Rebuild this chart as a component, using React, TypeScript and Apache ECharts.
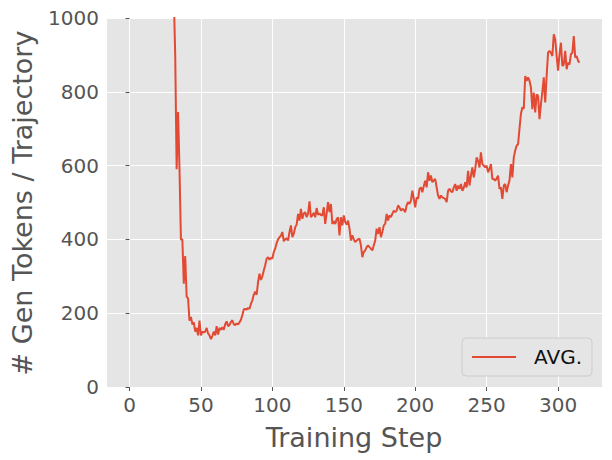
import React, { useEffect, useRef } from "react";
import * as echarts from "echarts";

// Training steps 0..315 and the average generated tokens per trajectory
const earlyValues = [
  2450, 2380, 2320, 2260, 2190, 2130, 2070, 2010, 1960, 1900,
  1850, 1800, 1750, 1700, 1660, 1610, 1570, 1530, 1490, 1450,
  1410, 1380, 1340, 1310, 1280, 1250, 1220, 1190, 1160, 1130,
  1100, 1060,
];
const laterValues = [
  // 32..
  900, 590, 745, 590, 400, 400, 280, 355, 245, 240,
  180, 190, 170, 175, 150, 160, 140, 180, 140, 150,
  148, 150, 160, 145, 140, 130, 138, 150, 140, 165,
  142, 160, 155, 162, 155, 170, 178, 165, 168, 176,
  181, 170, 168, 172, 170, 175, 182, 195, 210, 212,
  210, 214, 212, 225, 235, 250, 258, 250, 285, 307,
  290, 300, 316, 330, 348, 352, 345, 350, 348, 366,
  375, 390, 400, 406, 410, 420, 395, 400, 403, 397,
  420, 438, 406, 415, 433, 440, 469, 451, 483, 456,
  470, 474, 460, 470, 503, 460, 465, 472, 460, 485,
  467, 470, 466, 465, 487, 442, 470, 501, 474, 496,
  442, 449, 442, 455, 460, 411, 460, 438, 465, 447,
  440, 451, 429, 397, 411, 400, 393, 397, 400, 402,
  384, 352, 366, 370, 379, 384, 379, 375, 370, 384,
  397, 429, 415, 433, 406, 420, 438, 442, 469, 451,
  465, 460, 470, 478, 474, 478, 492, 487, 478, 483,
  480, 474, 492, 501, 496, 505, 532, 510, 487, 514,
  510, 537, 541, 528, 545, 559, 541, 582, 559, 573,
  555, 560, 564, 541, 519, 510, 519, 514, 512, 510,
  501, 532, 537, 530, 528, 541, 550, 532, 546, 537,
  550, 532, 540, 555, 541, 586, 546, 573, 595, 568,
  591, 622, 613, 595, 636, 604, 600, 595, 600, 582,
  591, 604, 564, 564, 559, 565, 573, 537, 541, 510,
  546, 550, 528, 546, 560, 604, 568, 622, 641, 654,
  658, 700, 740, 758, 754, 843, 830, 839, 830, 812,
  753, 798, 744, 793, 789, 726, 766, 800, 839, 771,
  843, 906, 911, 906, 897, 956, 942, 897, 857, 902,
  933, 870, 874, 911, 861, 879, 874, 902, 906, 951,
  893, 897, 884, 879,
];
const avgValues = [...earlyValues, ...laterValues];
const steps = avgValues.map((_, i) => i);

const xTicks = [0, 50, 100, 150, 200, 250, 300];
const yTicks = [0, 200, 400, 600, 800, 1000];

const seriesName = "AVG.";
const xTitle = "Training Step";
const yTitle = "# Gen Tokens / Trajectory";

export default function App() {
  const ref = useRef<HTMLDivElement>(null);
  useEffect(() => {
    if (!ref.current) return;
    const chart = echarts.init(ref.current, undefined, { renderer: "svg" });
    const font = "DejaVu Sans";
    const span = steps[steps.length - 1] - steps[0];
    chart.setOption({
      animation: false,
      backgroundColor: "#ffffff",
      grid: {
        left: 107,
        right: 10,
        top: 18,
        bottom: 73,
        show: true,
        backgroundColor: "#E5E5E5",
        borderWidth: 0,
      },
      xAxis: {
        type: "value",
        min: steps[0] - span * 0.05,
        max: steps[steps.length - 1] + span * 0.05,
        axisLine: { show: false },
        axisTick: {
          show: true,
          length: 4,
          customValues: xTicks,
          lineStyle: { color: "#555555", width: 1 },
        },
        axisLabel: {
          customValues: xTicks,
          color: "#555555",
          fontSize: 20,
          fontFamily: font,
          margin: 8,
          formatter: (v: number) => String(v),
        },
        splitLine: { show: true, lineStyle: { color: "#ffffff", width: 1 } },
      },
      yAxis: {
        type: "value",
        min: yTicks[0],
        max: yTicks[yTicks.length - 1],
        interval: 200,
        axisLine: { show: false },
        axisTick: {
          show: true,
          length: 4,
          lineStyle: { color: "#555555", width: 1 },
        },
        axisLabel: {
          color: "#555555",
          fontSize: 20,
          fontFamily: font,
          margin: 8,
          formatter: (v: number) => String(v),
        },
        splitLine: { show: true, lineStyle: { color: "#ffffff", width: 1 } },
      },
      legend: {
        right: 20,
        bottom: 84,
        orient: "horizontal",
        padding: [9, 10, 9, 10],
        itemWidth: 44,
        itemHeight: 14,
        backgroundColor: "#E5E5E5",
        borderColor: "#CCCCCC",
        borderWidth: 1,
        borderRadius: 4,
        textStyle: { fontSize: 20, fontFamily: font, color: "#111111", padding: [0, 0, 0, 13] },
        data: [{ name: seriesName, icon: "path://M0,0 L44,0 L44,2 L0,2 Z" }],
      },
      series: [
        {
          name: seriesName,
          type: "line",
          data: steps.map((s, i) => [s, avgValues[i]]),
          showSymbol: false,
          symbol: "none",
          clip: true,
          lineStyle: { color: "#E24A33", width: 2 },
          itemStyle: { color: "#E24A33" },
        },
      ],
      graphic: [
        {
          type: "text",
          x: 354,
          y: 437,
          style: {
            text: xTitle,
            fontSize: 27,
            fontFamily: font,
            fill: "#555555",
            align: "center",
            verticalAlign: "middle",
          },
        },
        {
          type: "text",
          x: 22,
          y: 203,
          rotation: Math.PI / 2,
          style: {
            text: yTitle,
            fontSize: 27,
            fontFamily: font,
            fill: "#555555",
            align: "center",
            verticalAlign: "middle",
          },
        },
      ],
    });
    return () => chart.dispose();
  }, []);
  return <div ref={ref} style={{ width: 612, height: 460, position: "absolute", left: 0, top: 0 }} />;
}
